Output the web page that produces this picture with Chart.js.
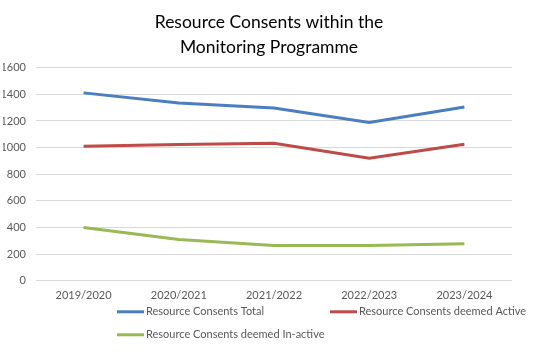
<!DOCTYPE html>
<html>
<head>
<meta charset="utf-8">
<script src="https://cdn.jsdelivr.net/npm/chart.js@4/dist/chart.umd.min.js"></script>
<style>
html,body{margin:0;padding:0;background:#fff;}
#wrap{width:535px;height:357px;}
</style>
</head>
<body>
<div id="wrap"><canvas id="c" width="535" height="357"></canvas></div>
<script>
const categories = ["2019/2020", "2020/2021", "2021/2022", "2022/2023", "2023/2024"];
const totalValues = [1411, 1335, 1298, 1189, 1305];
const activeValues = [1010, 1023, 1033, 920, 1026];
const inactiveValues = [401, 310, 265, 265, 278];
const seriesNames = ["Resource Consents Total", "Resource Consents deemed Active", "Resource Consents deemed In-active"];
const titleLines = ["Resource Consents within the", "Monitoring Programme"];

const FONT = "Lato, 'Open Sans', sans-serif";
const TXT = "#595959";

const legendPlugin = {
  id: 'gridLegend',
  afterDraw(chart) {
    const ctx = chart.ctx;
    const a = chart.chartArea;
    const slots = [
      {x: a.left + 81, y: a.bottom + 31},
      {x: a.left + 294, y: a.bottom + 31},
      {x: a.left + 81, y: a.bottom + 54}
    ];
    ctx.save();
    chart.data.datasets.forEach((ds, i) => {
      const s = slots[i];
      ctx.strokeStyle = ds.borderColor;
      ctx.lineWidth = 3;
      ctx.lineCap = 'butt';
      ctx.beginPath();
      ctx.moveTo(s.x, s.y);
      ctx.lineTo(s.x + 27, s.y);
      ctx.stroke();
      ctx.fillStyle = TXT;
      ctx.font = "11px " + FONT;
      ctx.textBaseline = 'middle';
      ctx.textAlign = 'left';
      ctx.fillText(ds.label, s.x + 29, s.y);
    });
    ctx.restore();
  }
};

new Chart(document.getElementById('c'), {
  type: 'line',
  data: {
    labels: categories,
    datasets: [
      {label: seriesNames[0], data: totalValues, borderColor: '#4A7EC0', backgroundColor: '#4A7EC0', borderWidth: 3, pointRadius: 0, tension: 0},
      {label: seriesNames[1], data: activeValues, borderColor: '#BE4B48', backgroundColor: '#BE4B48', borderWidth: 3, pointRadius: 0, tension: 0},
      {label: seriesNames[2], data: inactiveValues, borderColor: '#98B954', backgroundColor: '#98B954', borderWidth: 3, pointRadius: 0, tension: 0}
    ]
  },
  options: {
    responsive: false,
    animation: false,
    layout: {padding: {left: 3, right: 0, top: 0, bottom: 47}},
    plugins: {
      legend: {display: false},
      tooltip: {enabled: false},
      title: {
        display: true,
        text: titleLines,
        color: '#000000',
        font: {family: FONT, size: 17.5, weight: 'normal', lineHeight: 1.42},
        padding: {top: 10, bottom: 8}
      }
    },
    scales: {
      x: {
        offset: true,
        grid: {display: false, drawTicks: false},
        border: {display: false},
        ticks: {color: TXT, font: {family: FONT, size: 11}, padding: 8, maxRotation: 0}
      },
      y: {
        min: 0, max: 1600,
        afterFit(scale) { scale.width = 33; },
        grid: {color: '#D9D9D9', drawTicks: false, lineWidth: 1},
        border: {display: false},
        ticks: {stepSize: 200, color: TXT, font: {family: FONT, size: 11}, padding: 10,
          callback: (v) => String(v)}
      },
      ySpacer: {
        position: 'right',
        display: true,
        afterFit(scale) { scale.width = 23; },
        grid: {display: false, drawTicks: false},
        border: {display: false},
        ticks: {display: false}
      }
    }
  },
  plugins: [legendPlugin]
});
</script>
</body>
</html>
